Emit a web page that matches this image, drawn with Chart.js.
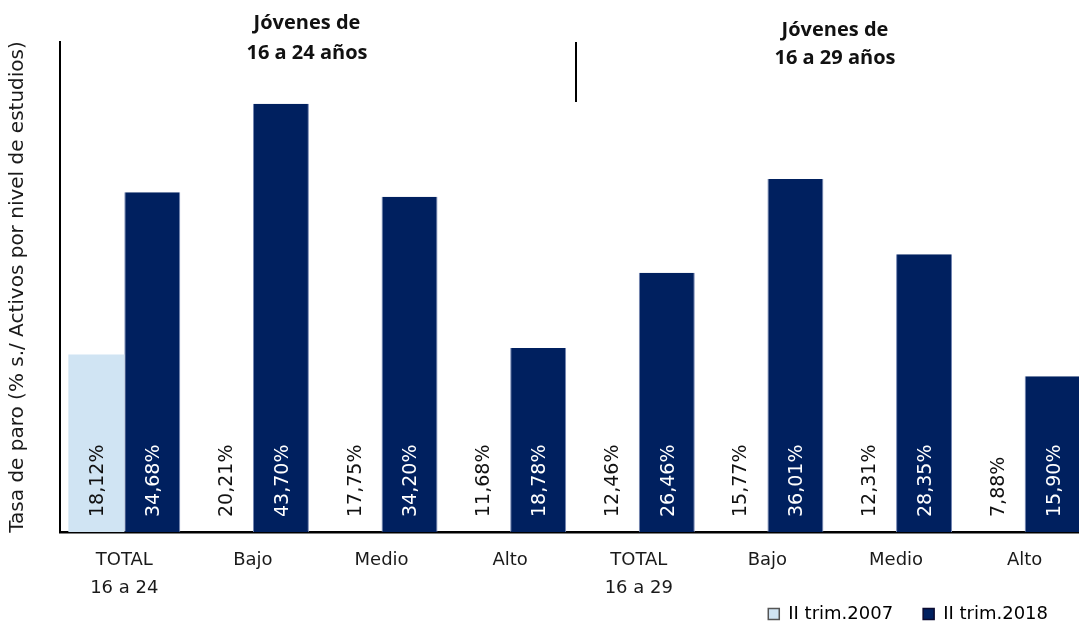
<!DOCTYPE html>
<html lang="es">
<head>
  <meta charset="UTF-8">
  <title>Tasa de paro jóvenes por nivel de estudios</title>
  <script src="https://cdn.jsdelivr.net/npm/chart.js"></script>
  <style>
    html, body {
      margin: 0;
      padding: 0;
      background: #fff;
      overflow: hidden;
    }
    /* a touch wider than the window: the last bar runs off the right edge */
    .chart-container {
      position: relative;
      width: 1089px;
      height: 625px;
    }
  </style>
</head>
<body>
  <div class="chart-container">
    <canvas id="paroChart"></canvas>
  </div>

  <script>
    const categories = [['TOTAL', '16 a 24'], 'Bajo', 'Medio', 'Alto', ['TOTAL', '16 a 29'], 'Bajo', 'Medio', 'Alto'];
    const trim2007 = [18.12, 20.21, 17.75, 11.68, 12.46, 15.77, 12.31, 7.88];
    const trim2018 = [34.68, 43.70, 34.20, 18.78, 26.46, 36.01, 28.35, 15.90];
    const seriesNames = ['II trim.2007', 'II trim.2018'];
    const groupTitles = [['Jóvenes de', '16 a 24 años'], ['Jóvenes de', '16 a 29 años']];
    const yTitle = 'Tasa de paro (% s./ Activos por nivel de estudios)';

    const LIGHT = '#d0e4f3';
    const DARK = '#00205f';
    const FONT = 'DejaVu Sans';

    // value labels, rotated, sitting at the foot of each bar
    const barLabels = {
      id: 'barLabels',
      afterDatasetsDraw(chart) {
        const ctx = chart.ctx;
        chart.data.datasets.forEach((ds, i) => {
          chart.getDatasetMeta(i).data.forEach((bar, j) => {
            ctx.save();
            ctx.translate(bar.x + 2, bar.base - 15);
            ctx.rotate(-Math.PI / 2);
            ctx.font = '19px "' + FONT + '"';
            ctx.fillStyle = i === 1 ? '#ffffff' : '#111111';
            ctx.textAlign = 'left';
            ctx.textBaseline = 'middle';
            ctx.fillText(ds.data[j].toFixed(2).replace('.', ',') + '%', 0, 0);
            ctx.restore();
          });
        });
      }
    };

    // group headings and the small separator at the top
    const groupHeads = {
      id: 'groupHeads',
      afterDraw(chart) {
        const ctx = chart.ctx;
        const spots = [[307, 29, 59], [835, 36, 64]];
        ctx.save();
        ctx.font = 'bold 20px "Open Sans"';
        ctx.fillStyle = '#111';
        ctx.textAlign = 'center';
        ctx.textBaseline = 'alphabetic';
        groupTitles.forEach((lines, k) => {
          ctx.fillText(lines[0], spots[k][0], spots[k][1]);
          ctx.fillText(lines[1], spots[k][0], spots[k][2]);
        });
        ctx.strokeStyle = '#000';
        ctx.lineWidth = 2;
        ctx.beginPath();
        ctx.moveTo(576, chart.chartArea.top);
        ctx.lineTo(576, 102);
        ctx.stroke();
        ctx.restore();
      }
    };

    // legend a bit lower and left; x labels get room to their second line
    const layoutTweak = {
      id: 'layoutTweak',
      afterLayout(chart) {
        const lg = chart.legend;
        lg.left -= 11;
        lg.right -= 11;
        lg.top += 8;
        lg.bottom += 8;
        chart.scales.x.bottom += 60;
      }
    };

    new Chart(document.getElementById('paroChart'), {
      type: 'bar',
      data: {
        labels: categories,
        datasets: [
          {
            label: seriesNames[0],
            data: trim2007,
            backgroundColor: c => c.dataIndex === 0 ? LIGHT : 'rgba(255,255,255,0)',
            borderWidth: 0
          },
          {
            label: seriesNames[1],
            data: trim2018,
            backgroundColor: DARK,
            borderColor: '#7486b3',
            borderWidth: { left: 1, right: 1, top: 0, bottom: 0 },
            borderSkipped: false
          }
        ]
      },
      options: {
        responsive: true,
        maintainAspectRatio: false,
        animation: false,
        datasets: {
          bar: { barPercentage: 1, categoryPercentage: 0.87 }
        },
        layout: {
          padding: { top: 42, right: 0, bottom: 0, left: 0 }
        },
        plugins: {
          tooltip: { enabled: false },
          legend: {
            position: 'bottom',
            align: 'end',
            labels: {
              boxWidth: 11,
              boxHeight: 11,
              padding: 30,
              color: '#1a1a1a',
              font: { family: FONT, size: 18 },
              generateLabels: chart => seriesNames.map((name, i) => ({
                text: name,
                fillStyle: i === 0 ? LIGHT : DARK,
                strokeStyle: i === 0 ? '#555555' : '#0a0a30',
                lineWidth: 1.5,
                datasetIndex: i,
                hidden: false
              }))
            }
          }
        },
        scales: {
          x: {
            z: 1,
            grid: { display: false },
            border: { display: true, color: '#000', width: 2.5 },
            ticks: {
              color: '#1a1a1a',
              font: { family: FONT, size: 18, lineHeight: 1.55 },
              padding: 6,
              maxRotation: 0,
              autoSkip: false
            },
            afterFit: s => { s.height = 35; }
          },
          y: {
            z: 1,
            min: 0,
            max: 50,
            grid: { display: false },
            border: { display: true, color: '#000', width: 2 },
            ticks: { display: false },
            title: {
              display: true,
              text: yTitle,
              color: '#1a1a1a',
              font: { family: FONT, size: 20 },
              padding: { top: 6, bottom: 0 }
            },
            afterFit: s => { s.width = 60; }
          }
        }
      },
      plugins: [barLabels, groupHeads, layoutTweak]
    });
  </script>
</body>
</html>
